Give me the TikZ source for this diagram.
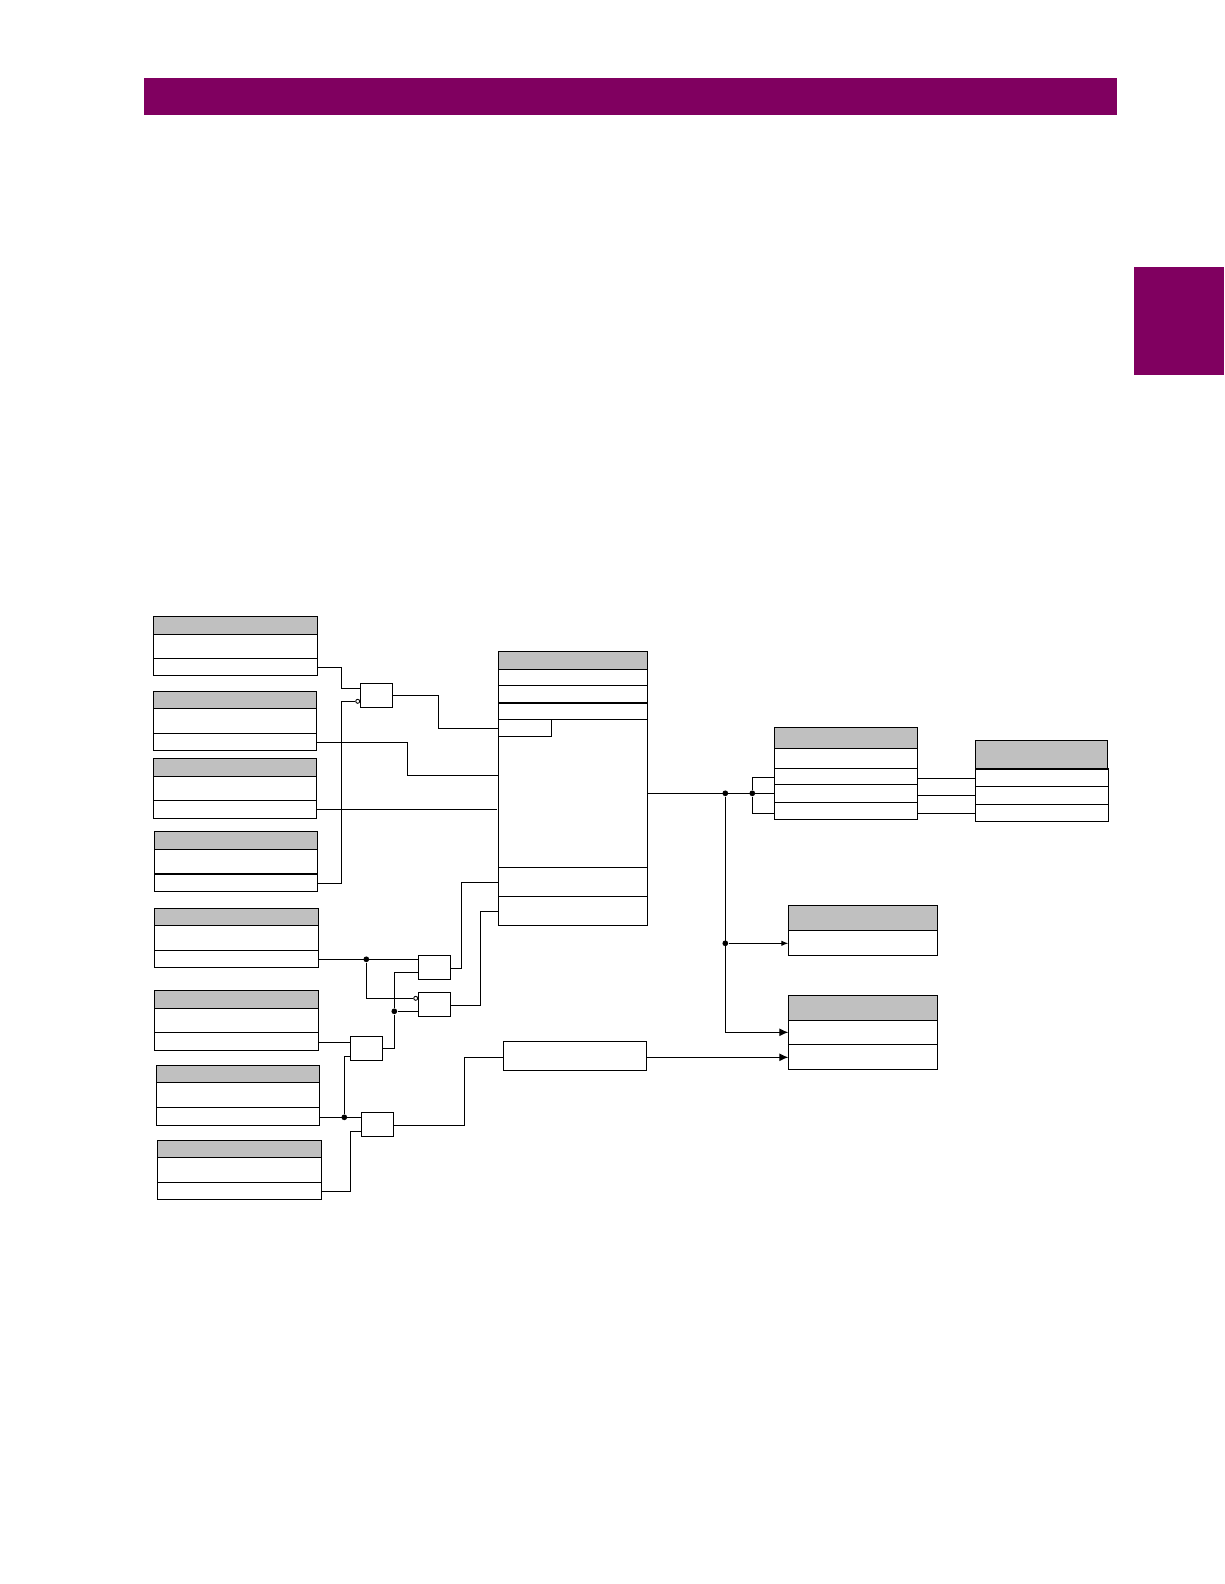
\documentclass[tikz,border=0pt]{standalone}
\usepackage{xcolor}
\definecolor{GEpurple}{RGB}{128,0,96}
\definecolor{hdrgray}{RGB}{192,192,192}
\usepackage{tikz}
\usetikzlibrary{arrows.meta,fit}

\begin{document}
\begin{tikzpicture}[x=0.02cm,y=-0.02cm,
                      band/.style={rectangle,fill=GEpurple,inner sep=0pt,outer sep=0pt},
                      hdr/.style={rectangle,draw,fill=hdrgray,inner sep=0pt,outer sep=0pt,line width=0.6pt},
                      cell/.style={rectangle,draw,fill=white,inner sep=0pt,outer sep=0pt,line width=0.6pt},
                      wire/.style={line width=0.6pt},
                      heavy/.style={line width=1.2pt},
                      arr/.style={line width=0.6pt,-{Latex[length=0.14cm,width=0.11cm]}},
                      bigarr/.style={line width=0.6pt,-{Latex[length=0.18cm,width=0.16cm]}},
                      joint/.style={circle,fill=black,inner sep=0pt,minimum size=0.115cm},
                      neg/.style={circle,draw,fill=white,inner sep=0pt,minimum size=0.08cm,line width=0.5pt}]
    \useasboundingbox (0,0) rectangle (1224,1584);
    \node[band,fit={(144,78) (1117,115)}] (topbar) {};
    \node[band,fit={(1134,267) (1224,375)}] (sidetab) {};

    % input tables: name / left / right / four row lines / wire height
    \foreach \nm/\xl/\xr/\ya/\yb/\yc/\yd/\yo in {in1/153.3/317.3/616.3/634.3/658.3/675.3/667.3,
        in2/153.3/316.3/691.3/708.3/733.3/750.3/742.3,
        in3/153.3/316.3/758.3/776.3/800.3/818.3/809.3,
        in4/154.3/317.7/831.3/849.3/873.7/891.3/883.3,
        in5/154.3/318.3/908.3/925.3/950.3/967.3/959.3,
        in6/154.3/318.3/990.3/1008.3/1032.3/1050.3/1042.3,
        in7/156.3/319.3/1065.3/1082.3/1107.3/1125.3/1117.3,
        in8/157.3/321.7/1140.3/1157.3/1182.3/1199.3/1191.3}{
      \node[hdr,fit={(\xl,\ya) (\xr,\yb)}] (\nm h) {};
      \node[cell,fit={(\xl,\yb) (\xr,\yc)}] (\nm a) {};
      \node[cell,fit={(\xl,\yc) (\xr,\yd)}] (\nm b) {};
      \coordinate (\nm o) at (\xr,\yo);
    }
    \draw[heavy] (in4a.south west) -- (in4a.south east);

    % central table
    \node[hdr,fit={(498.3,651.3) (647.3,669.3)}] (mh) {};
    \node[cell,fit={(498.3,669.3) (647.3,685.3)}] (ma) {};
    \node[cell,fit={(498.3,685.3) (647.3,702.7)}] (mb) {};
    \node[cell,fit={(498.3,702.7) (647.3,719.3)}] (mc) {};
    \node[cell,fit={(498.3,719.3) (647.3,867.3)}] (md) {};
    \node[cell,fit={(498.3,719.3) (551.3,736.3)}] (ms) {};
    \node[cell,fit={(498.3,867.3) (647.3,896.3)}] (me) {};
    \node[cell,fit={(498.3,896.3) (647.3,925.3)}] (mf) {};
    \draw[heavy] (mb.south west) -- (mb.south east);

    % right tables
    \node[hdr,fit={(774.3,727.3) (917.3,748.3)}] (r1h) {};
    \node[cell,fit={(774.3,748.3) (917.3,768.3)}] (r1a) {};
    \node[cell,fit={(774.3,768.3) (917.3,784.3)}] (r1b) {};
    \node[cell,fit={(774.3,784.3) (917.3,802.3)}] (r1c) {};
    \node[cell,fit={(774.3,802.3) (917.3,819.3)}] (r1d) {};
    \node[hdr,fit={(975.3,740.3) (1107.3,769)}] (r2h) {};
    \node[cell,fit={(975.3,769) (1108.3,786.3)}] (r2a) {};
    \node[cell,fit={(975.3,786.3) (1108.3,804.3)}] (r2b) {};
    \node[cell,fit={(975.3,804.3) (1108.3,821.3)}] (r2c) {};
    \draw[heavy] (r2h.south west) -- (r2h.south east);
    \node[hdr,fit={(788.3,905.3) (937.7,930.3)}] (r3h) {};
    \node[cell,fit={(788.3,930.3) (937.7,955.3)}] (r3a) {};
    \node[hdr,fit={(788.3,995.3) (937.7,1020.3)}] (r4h) {};
    \node[cell,fit={(788.3,1020.3) (937.7,1044.3)}] (r4a) {};
    \node[cell,fit={(788.3,1044.3) (937.7,1069.3)}] (r4b) {};
    \node[cell,fit={(503.3,1041.3) (646.3,1070.3)}] (cnt) {};

    % gates: name / left / top / right / bottom / inputs / output
    \foreach \nm/\xl/\ya/\xr/\yd/\ia/\ib/\io in {g1/360.3/683.3/392.3/707.3/688.3/701.3/695.3,
        g2/418.3/955.3/450.3/979.3/959.3/972.3/968.3,
        g3/418.3/992.3/450.3/1016.3/998.3/1011.3/1005.3,
        g4/350.3/1036.3/382.3/1060.3/1042.3/1056.3/1048.3,
        g5/361.3/1112.3/393.3/1136.3/1117.3/1131.3/1125.3}{
      \node[cell,fit={(\xl,\ya) (\xr,\yd)}] (\nm) {};
      \coordinate (\nm a) at (\xl,\ia);
      \coordinate (\nm b) at (\xl,\ib);
      \coordinate (\nm o) at (\xr,\io);
    }
    \node[neg] (n1) at (357.7,701.3) {};
    \node[neg] (n2) at (415.7,998.3) {};
    \node[joint] (d1) at (725.3,793.3) {};
    \node[joint] (d2) at (752.3,793.3) {};
    \node[joint] (d3) at (725.3,943.3) {};
    \node[joint] (d4) at (366.3,959.3) {};
    \node[joint] (d5) at (394.3,1011.3) {};
    \node[joint] (d6) at (344.3,1117.3) {};

    \draw[wire] (in1o) -| (341.3,688.3) -- (g1a);
    \draw[wire] (in4o) -| (341.3,701.3) -- (n1.west);
    \draw[wire] (g1o) -| (438.3,728.3) -- (ms.west |- 0,728.3);
    \draw[wire] (in2o) -| (407.3,775.3) -- (md.west |- 0,775.3);
    \draw[wire] (in3o) -- (496.7,809.3);
    \draw[wire] (in5o) -- (g2a);
    \draw[wire] (d4) |- (n2.west);
    \draw[wire] (g4o) -| (d5) |- (g2b);
    \draw[wire] (d5) -- (g3b);
    \draw[wire] (in6o) -- (g4a);
    \draw[wire] (g4b) -| (d6);
    \draw[wire] (in7o) -- (g5a);
    \draw[wire] (in8o) -| (350.3,1131.3) -- (g5b);
    \draw[wire] (g2o) -| (461.7,882.3) -- (me.west |- 0,882.3);
    \draw[wire] (g3o) -| (480.3,911.3) -- (mf.west |- 0,911.3);
    \draw[wire] (g5o) -| (464.3,1057.3) -- (cnt.west |- 0,1057.3);
    \draw[wire] (md.east) -- (r1c.west);
    \draw[wire] (d2) |- (r1b.west |- 0,777.3);
    \draw[wire] (d2) |- (r1d.west |- 0,813.3);
    \draw[wire] (r1b.east |- 0,778.3) -- (r2a.west |- 0,778.3);
    \draw[wire] (r1c.east |- 0,795.3) -- (r2b.west |- 0,795.3);
    \draw[wire] (r1d.east |- 0,813.3) -- (r2c.west |- 0,813.3);
    \draw[arr] (d3) -- (r3a.west |- d3);
    \draw[bigarr] (d1) |- (r4a.west);
    \draw[bigarr] (cnt.east |- 0,1057.3) -- (r4b.west |- 0,1057.3);
  \end{tikzpicture}
\end{document}
